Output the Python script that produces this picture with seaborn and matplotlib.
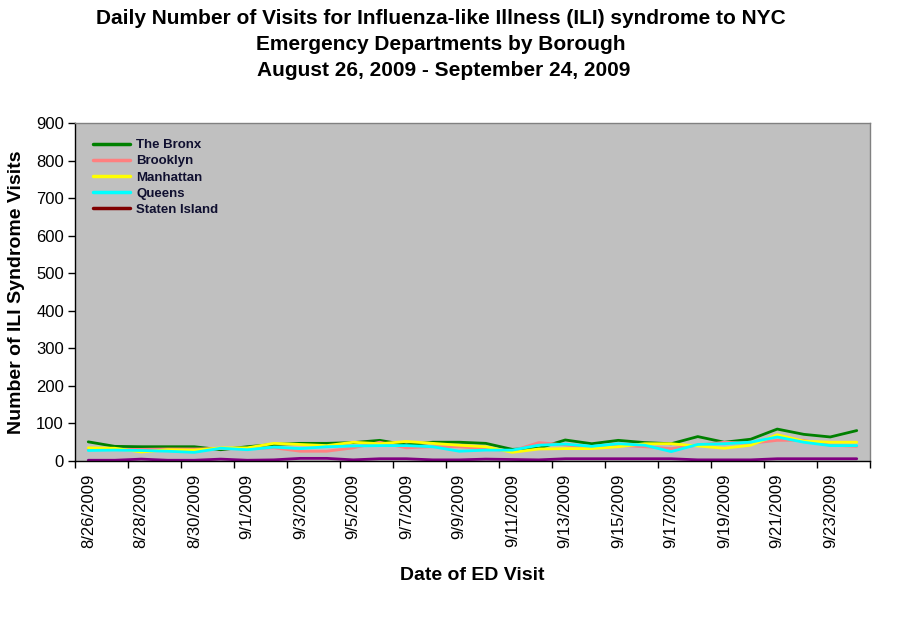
import matplotlib
matplotlib.use("Agg")
import matplotlib.pyplot as plt
import seaborn as sns
import pandas as pd
from matplotlib.lines import Line2D

dates = ["8/26/2009", "8/27/2009", "8/28/2009", "8/29/2009", "8/30/2009", "8/31/2009",
         "9/1/2009", "9/2/2009", "9/3/2009", "9/4/2009", "9/5/2009", "9/6/2009",
         "9/7/2009", "9/8/2009", "9/9/2009", "9/10/2009", "9/11/2009", "9/12/2009",
         "9/13/2009", "9/14/2009", "9/15/2009", "9/16/2009", "9/17/2009", "9/18/2009",
         "9/19/2009", "9/20/2009", "9/21/2009", "9/22/2009", "9/23/2009", "9/24/2009"]

bronx = [51, 39, 38, 38, 38, 30, 38, 44, 47, 47, 49, 55, 43, 50, 50,
         47, 31, 34, 56, 46, 55, 49, 46, 65, 50, 58, 85, 71, 64, 81]
brooklyn = [32, 31, 31, 32, 32, 33, 33, 35, 26, 26, 35, 50, 35, 38, 38,
            32, 27, 49, 43, 35, 42, 38, 33, 42, 50, 47, 55, 55, 42, 39]
manhattan = [35, 34, 24, 30, 29, 35, 35, 47, 44, 41, 50, 46, 52, 47, 42,
             38, 23, 32, 33, 33, 38, 46, 46, 40, 34, 42, 70, 53, 50, 50]
queens = [28, 29, 28, 26, 23, 34, 30, 37, 33, 38, 40, 41, 41, 38, 26,
          29, 29, 42, 45, 39, 46, 42, 25, 44, 46, 50, 64, 50, 41, 41]
staten = [2, 2, 5, 2, 2, 5, 2, 3, 7, 7, 3, 6, 6, 3, 3,
          5, 4, 3, 6, 6, 6, 6, 6, 3, 3, 3, 6, 6, 6, 6]

boroughs = ["The Bronx", "Brooklyn", "Manhattan", "Queens", "Staten Island"]
series = [bronx, brooklyn, manhattan, queens, staten]
line_colors = ["#008000", "#FF8080", "#FFFF00", "#00FFFF", "#800080"]
legend_colors = ["#008000", "#FF8080", "#FFFF00", "#00FFFF", "#800000"]

rows = []
for name, vals in zip(boroughs, series):
    for i, v in enumerate(vals):
        rows.append({"day": i, "borough": name, "visits": v})
df = pd.DataFrame(rows)

sns.set_style("white")
plt.rcParams["font.family"] = ["Liberation Sans", "DejaVu Sans"]
plt.rcParams["text.color"] = "black"
plt.rcParams["axes.labelcolor"] = "black"
plt.rcParams["xtick.color"] = "black"
plt.rcParams["ytick.color"] = "black"

fig = plt.figure(figsize=(9.11, 6.23), dpi=100)
ax = fig.add_axes([75 / 911, 1 - 461 / 623, 795 / 911, 338 / 623])
ax.set_facecolor("#C0C0C0")

sns.lineplot(data=df, x="day", y="visits", hue="borough", hue_order=boroughs,
             palette=dict(zip(boroughs, line_colors)), linewidth=2.0, ax=ax,
             legend=False)

ax.set_xlim(-0.5, len(dates) - 0.5)
ax.set_ylim(0, 900)
ax.set_yticks(range(0, 901, 100))
ax.tick_params(axis="y", which="major", length=5, width=1, color="black",
               labelcolor="black", labelsize=12, direction="out", left=True, pad=3)

major_pos = list(range(0, len(dates), 2))
ax.set_xticks(major_pos)
ax.set_xticklabels([dates[i] for i in major_pos], rotation=90, fontsize=12,
                   va="top", ha="center")
ax.set_xticks([x - 0.5 for x in range(0, len(dates) + 1, 2)], minor=True)
ax.tick_params(axis="x", which="major", length=0, pad=9, labelcolor="black")
ax.tick_params(axis="x", which="minor", length=5, width=1, color="black",
               direction="out", bottom=True)

for s in ["left", "bottom"]:
    ax.spines[s].set_color("black")
    ax.spines[s].set_linewidth(1)
for s in ["top", "right"]:
    ax.spines[s].set_color("#808080")
    ax.spines[s].set_linewidth(1)

ax.set_xlabel("Date of ED Visit", fontsize=14, fontweight="bold", labelpad=0,
              color="black")
ax.xaxis.set_label_coords(0.5, -0.313)
ax.set_ylabel("Number of ILI Syndrome Visits", fontsize=14, fontweight="bold",
              color="black")
ax.yaxis.set_label_coords(-0.063, 0.5)

handles = [Line2D([0], [0], color=c, linewidth=2.5) for c in legend_colors]
leg = ax.legend(handles, boroughs, loc="upper left", bbox_to_anchor=(0.008, 0.988),
                frameon=False, prop={"weight": "bold", "size": 9.5},
                handlelength=2.8, handletextpad=0.45, labelspacing=0.3)
for t in leg.get_texts():
    t.set_color("#101030")

fig.text(441 / 911, 1 - 18 / 623,
         "Daily Number of Visits for Influenza-like Illness (ILI) syndrome to NYC",
         ha="center", va="center", fontsize=15, fontweight="bold", color="black")
fig.text(441 / 911, 1 - 44 / 623, "Emergency Departments by Borough",
         ha="center", va="center", fontsize=15, fontweight="bold", color="black")
fig.text(444 / 911, 1 - 71 / 623, "August 26, 2009 - September 24, 2009",
         ha="center", va="center", fontsize=15, fontweight="bold", color="black")

fig.savefig("out.png", dpi=100, facecolor="white")
